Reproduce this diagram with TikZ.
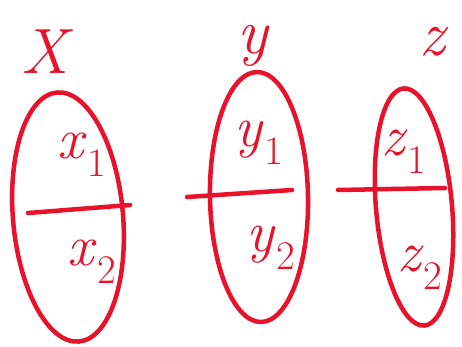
\documentclass[tikz,border=0pt]{standalone}
\usetikzlibrary{shapes.geometric}
\definecolor{pen}{RGB}{232,18,42}
\newcommand{\partlbl}[2]{\textit{#1}\textsubscript{#2}}

\begin{document}
\begin{tikzpicture}[
  x=1pt, y=-1pt,
  setoval/.style ={draw=pen, ellipse, line width=4.5pt, inner sep=0pt},
  setname/.style ={text=pen, font=\fontsize{64}{70}\selectfont\itshape},
  part/.style    ={text=pen, font=\fontsize{58}{64}\selectfont},
  divide/.style  ={draw=pen, line width=4.5pt, line cap=round},
]
\useasboundingbox (0,0) rectangle (462,347);

% the three sets
\node[setoval, minimum width=110pt, minimum height=250pt, rotate=5] (setX) at (68,217) {};
\node[setoval, minimum width=98pt,  minimum height=250pt, rotate=1] (setY) at (259,197) {};
\node[setoval, minimum width=76pt,  minimum height=238pt, rotate=5] (setZ) at (414,207) {};

\node[setname] (nameX) at (45,52) {X};
\node[setname] (nameY) at (253,46) {y};
\node[setname] (nameZ) at (432,42) {z};

% split lines
\coordinate (xl) at (28,213);  \coordinate (xr) at (130,205);
\coordinate (yl) at (187,197); \coordinate (yr) at (292,190);
\coordinate (zl) at (338,190); \coordinate (zr) at (445,188);
\draw[divide] (xl) -- (xr);
\draw[divide] (yl) -- (yr);
\draw[divide] (zl) -- (zr);

% parts
\node[part] (x1) at (82,155)  {\partlbl{x}{1}};
\node[part] (x2) at (92,262)  {\partlbl{x}{2}};
\node[part] (y1) at (259,143) {\partlbl{y}{1}};
\node[part] (y2) at (271,248) {\partlbl{y}{2}};
\node[part] (z1) at (404,152) {\partlbl{z}{1}};
\node[part] (z2) at (420,268) {\partlbl{z}{2}};

\end{tikzpicture}
\end{document}
